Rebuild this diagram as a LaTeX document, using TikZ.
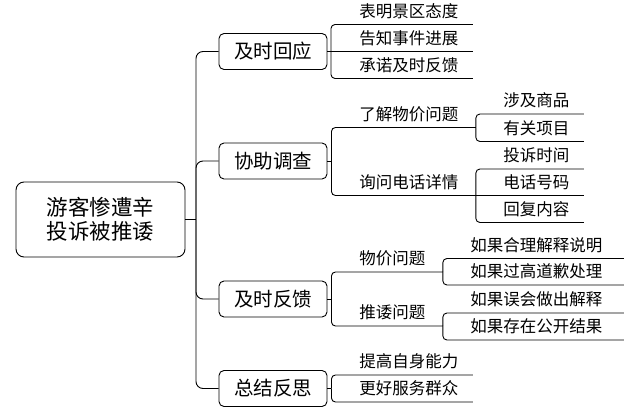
\documentclass[tikz,border=0pt]{standalone}
\usepackage{fontspec}
\newfontfamily\cjk{Noto Sans CJK SC}
\begin{document}
\begin{tikzpicture}[x=1pt,y=-1pt,line width=0.9pt,
    root node/.style={draw,rounded corners=8pt,minimum width=169pt,minimum height=75pt,
        inner sep=0pt,align=center,font=\cjk\fontsize{21.5}{24}\selectfont},
    main node/.style={draw,rounded corners=5pt,minimum width=108pt,minimum height=36pt,
        inner sep=0pt,font=\cjk\fontsize{19.5}{22}\selectfont},
    leaf node/.style={anchor=south west,inner sep=0pt,text width=#1,minimum height=26pt,
        align=left,font=\cjk\fontsize{16.5}{18}\selectfont,
        execute at begin node={\hspace*{28pt}}},
    link/.style={rounded corners=4pt},
    trunk/.style={rounded corners=7pt}]

    \useasboundingbox (0,0) rectangle (633,409);

    % Define root and main branches
    \node[root node] (root) at (100.5,219.5) {游客惨遭辛\\投诉被推诿};
    \node[main node] (b1) at (273,51.5) {及时回应};
    \node[main node] (b2) at (273,161) {协助调查};
    \node[main node] (b3) at (273,299) {及时反馈};
    \node[main node] (b4) at (273,388.5) {总结反思};

    % Second level
    \node[leaf node=141pt] (a1) at (331,24.5) {表明景区态度};
    \node[leaf node=141pt] (a2) at (331,51.5) {告知事件进展};
    \node[leaf node=141pt] (a3) at (331,78.5) {承诺及时反馈};
    \node[leaf node=144pt] (c1) at (331,127.5) {了解物价问题};
    \node[leaf node=144pt] (c2) at (331,195.5) {询问电话详情};
    \node[leaf node=111pt] (c3) at (331,272) {物价问题};
    \node[leaf node=111pt] (c4) at (331,326) {推诿问题};
    \node[leaf node=141pt] (f1) at (331,375) {提高自身能力};
    \node[leaf node=141pt] (f2) at (331,402) {更好服务群众};

    % Third level
    \node[leaf node=108pt] (d1) at (475,114) {涉及商品};
    \node[leaf node=108pt] (d2) at (475,141.5) {有关项目};
    \node[leaf node=108pt] (d3) at (475,169) {投诉时间};
    \node[leaf node=108pt] (d4) at (475,195.5) {电话号码};
    \node[leaf node=108pt] (d5) at (475,222.5) {回复内容};
    \node[leaf node=181pt] (e1) at (442,258.5) {如果合理解释说明};
    \node[leaf node=181pt] (e2) at (442,285) {如果过高道歉处理};
    \node[leaf node=181pt] (e3) at (442,313) {如果误会做出解释};
    \node[leaf node=181pt] (e4) at (442,340) {如果存在公开结果};

    % Trunk
    \coordinate (join) at (196,219.5);
    \draw (root.east) -- (join);
    \foreach \b in {b1,b2,b3,b4}
        \draw[trunk] (join) |- (\b.west);

    % 及时回应
    \draw (b1.east) -- (a2.south east);
    \draw[link] (a2.south west) |- (a1.south east);
    \draw[link] (a2.south west) |- (a3.south east);

    % 协助调查
    \draw (b2.east) -- ++(4,0) coordinate (b2j);
    \draw[link] (b2j) |- (c1.south east);
    \draw[link] (b2j) |- (c2.south east);
    \draw[link] (c1.south east) |- (d1.south east);
    \draw[link] (c1.south east) |- (d2.south east);
    \draw (c2.south east) -- (d4.south east);
    \draw[link] (c2.south east) |- (d3.south east);
    \draw[link] (c2.south east) |- (d5.south east);

    % 及时反馈
    \draw (b3.east) -- ++(4,0) coordinate (b3j);
    \draw[link] (b3j) |- (c3.south east);
    \draw[link] (b3j) |- (c4.south east);
    \draw[link] (c3.south east) |- (e1.south east);
    \draw[link] (c3.south east) |- (e2.south east);
    \draw[link] (c4.south east) |- (e3.south east);
    \draw[link] (c4.south east) |- (e4.south east);

    % 总结反思
    \draw (b4.east) -- ++(4,0) coordinate (b4j);
    \draw[link] (b4j) |- (f1.south east);
    \draw[link] (b4j) |- (f2.south east);
\end{tikzpicture}
\end{document}
